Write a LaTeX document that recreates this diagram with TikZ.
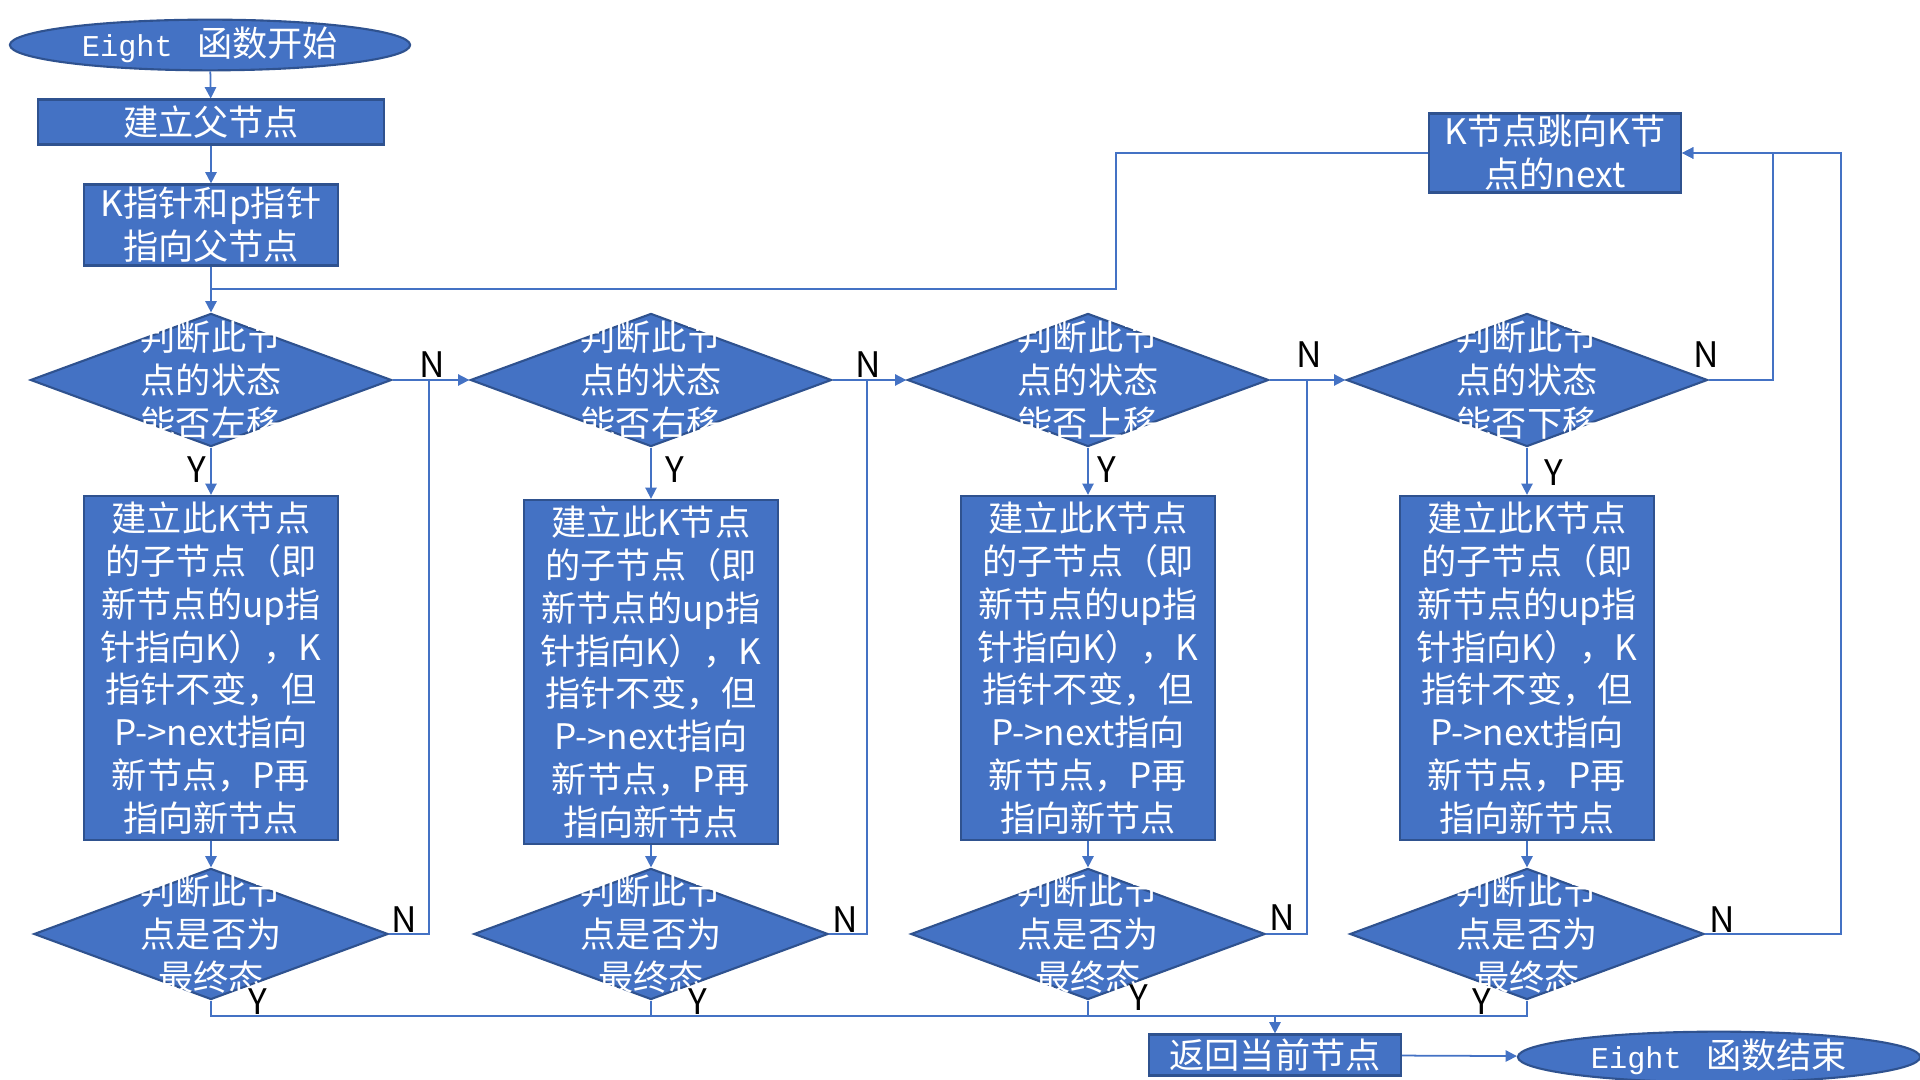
\documentclass[tikz,border=0pt]{standalone}
\usepackage{fontspec}
\setmainfont{Noto Sans CJK SC}
\newfontfamily\latinmono{Liberation Mono}
\usetikzlibrary{shapes.geometric,arrows.meta}
\definecolor{flowblue}{HTML}{4472C4}
\definecolor{flowedge}{HTML}{2F528F}

\begin{document}
\begin{tikzpicture}[x=0.01cm,y=-0.01cm,
  box/.style={draw=flowedge,fill=flowblue,line width=0.6pt,text=white,align=center,inner sep=0pt,font=\fontsize{10}{12.2}\selectfont},
  term/.style={ellipse,draw=flowedge,fill=flowblue,line width=0.6pt,text=white,inner sep=0pt,font=\fontsize{10}{12.2}\selectfont},
  test/.style={diamond,draw=flowedge,fill=flowblue,line width=0.6pt,inner sep=0pt},
  testtext/.style={text=white,align=center,inner sep=0pt,font=\fontsize{10}{12.2}\selectfont},
  line/.style={draw=flowblue,line width=0.5pt},
  arr/.style={line,-{Triangle[width=3.2pt,length=3.2pt]}},
  yn/.style={text=black,inner sep=0pt,font=\fontsize{10}{12}\selectfont}]
\useasboundingbox (0,0) rectangle (1920,1080);

\node[term,minimum width=4cm,minimum height=0.45cm] (start) at (210,45){{\latinmono\fontsize{8.6}{10}\selectfont Eight}\hspace{0.7em}函数开始};
\node[box,minimum width=3.45cm,minimum height=0.45cm] (parent) at (211,122){建立父节点};
\node[box,minimum width=2.53cm,minimum height=0.81cm] (kp) at (211,225){K指针和p指针\\指向父节点};
\node[box,minimum width=2.52cm,minimum height=0.79cm] (jump) at (1555,153){K节点跳向K节\\点的next};

%First Row
\node[test,minimum width=3.61cm,minimum height=1.33cm] (d1) at (211,380){}; \node[test,minimum width=3.61cm,minimum height=1.33cm] (d2) at (651,380){}; \node[test,minimum width=3.61cm,minimum height=1.33cm] (d3) at (1088,380){}; \node[test,minimum width=3.61cm,minimum height=1.33cm] (d4) at (1527,380){};
\node[testtext] (d1t) at (d1){判断此节\\点的状态\\能否左移}; \node[testtext] (d2t) at (d2){判断此节\\点的状态\\能否右移}; \node[testtext] (d3t) at (d3){判断此节\\点的状态\\能否上移}; \node[testtext] (d4t) at (d4){判断此节\\点的状态\\能否下移};

%Boxes
\node[box,minimum width=2.53cm,minimum height=3.44cm] (b1) at (211,668){建立此K节点\\的子节点（即\\新节点的up指\\针指向K），K\\指针不变，但\\P->next指向\\新节点，P再\\指向新节点};
\node[box,minimum width=2.53cm,minimum height=3.44cm] (b2) at (651,672){建立此K节点\\的子节点（即\\新节点的up指\\针指向K），K\\指针不变，但\\P->next指向\\新节点，P再\\指向新节点};
\node[box,minimum width=2.53cm,minimum height=3.44cm] (b3) at (1088,668){建立此K节点\\的子节点（即\\新节点的up指\\针指向K），K\\指针不变，但\\P->next指向\\新节点，P再\\指向新节点};
\node[box,minimum width=2.53cm,minimum height=3.44cm] (b4) at (1527,668){建立此K节点\\的子节点（即\\新节点的up指\\针指向K），K\\指针不变，但\\P->next指向\\新节点，P再\\指向新节点};

%Second Row
\node[test,minimum width=3.54cm,minimum height=1.31cm] (e1) at (211,934){}; \node[test,minimum width=3.54cm,minimum height=1.31cm] (e2) at (651,934){}; \node[test,minimum width=3.54cm,minimum height=1.31cm] (e3) at (1088,934){}; \node[test,minimum width=3.54cm,minimum height=1.31cm] (e4) at (1527,934){};
\node[testtext] (e1t) at (e1){判断此节\\点是否为\\最终态}; \node[testtext] (e2t) at (e2){判断此节\\点是否为\\最终态}; \node[testtext] (e3t) at (e3){判断此节\\点是否为\\最终态}; \node[testtext] (e4t) at (e4){判断此节\\点是否为\\最终态};

\node[box,minimum width=2.52cm,minimum height=0.41cm] (ret) at (1275,1055){返回当前节点};
\node[term,minimum width=4.02cm,minimum height=0.42cm] (finish) at (1719,1057){{\latinmono\fontsize{8.6}{10}\selectfont Eight}\hspace{0.7em}函数结束};

\coordinate (join) at (211,289); \coordinate (loopL) at (1116,289);
\coordinate (n1) at (429,380); \coordinate (n2) at (867,380); \coordinate (n3) at (1307,380);
\coordinate (r1) at (1773,153); \coordinate (r2) at (1841,153); \coordinate (ybar) at (0,1016);

\draw[arr] (start)--(parent); \draw[arr] (parent)--(kp); \draw[arr] (kp.south)--(d1.north); \draw[line] (jump.west) -| (loopL)--(join);
\draw[arr] (d1.east)--(d2.west); \draw[arr] (d2.east)--(d3.west); \draw[arr] (d3.east)--(d4.west); \draw[arr] (d4.east) -| (r1)--(jump.east);
\draw[arr] (d1.south)--(b1.north); \draw[arr] (d2.south)--(b2.north); \draw[arr] (d3.south)--(b3.north); \draw[arr] (d4.south)--(b4.north);
\draw[arr] (b1.south)--(e1.north); \draw[arr] (b2.south)--(e2.north); \draw[arr] (b3.south)--(e3.north); \draw[arr] (b4.south)--(e4.north);
\draw[line] (e1.east) -| (n1); \draw[line] (e2.east) -| (n2); \draw[line] (e3.east) -| (n3); \draw[arr] (e4.east) -| (r2)--(jump.east);
\draw[line] (e1.south)--(e1.south |- ybar)--(e4.south |- ybar)--(e4.south); \draw[line] (e2.south)--(e2.south |- ybar); \draw[line] (e3.south)--(e3.south |- ybar);
\draw[arr] (ret.north |- ybar)--(ret.north); \draw[arr] (ret)--(finish);

\node[yn] (na1) at (432,365){N}; \node[yn] (na2) at (868,365){N}; \node[yn] (na3) at (1309,355){N}; \node[yn] (na4) at (1706,355){N};
\node[yn] (ya1) at (197,470){Y}; \node[yn] (ya2) at (675,470){Y}; \node[yn] (ya3) at (1107,470){Y}; \node[yn] (ya4) at (1554,473){Y};
\node[yn] (nb1) at (404,920){N}; \node[yn] (nb2) at (845,920){N}; \node[yn] (nb3) at (1282,918){N}; \node[yn] (nb4) at (1722,920){N};
\node[yn] (yb1) at (258,1002){Y}; \node[yn] (yb2) at (698,1002){Y}; \node[yn] (yb3) at (1139,998){Y}; \node[yn] (yb4) at (1482,1002){Y};
\end{tikzpicture}
\end{document}
